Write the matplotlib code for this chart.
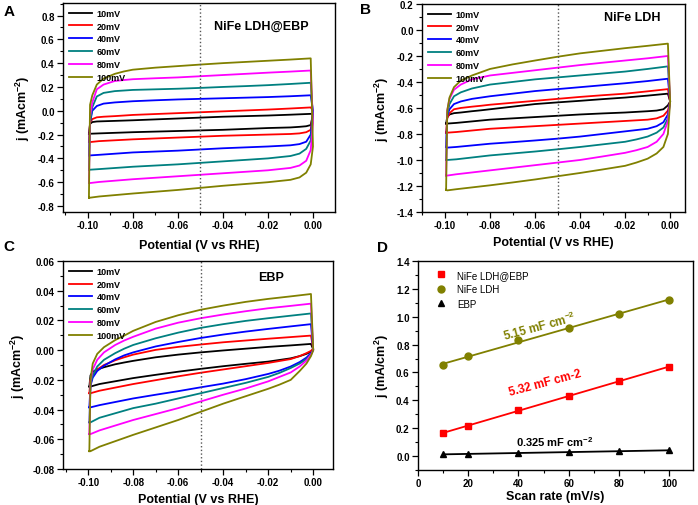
import matplotlib
matplotlib.use("Agg")
import matplotlib.pyplot as plt
import numpy as np
from matplotlib.ticker import MultipleLocator, FuncFormatter

plt.rcParams['font.family'] = ['Liberation Sans', 'DejaVu Sans']
plt.rcParams['font.weight'] = 'bold'
plt.rcParams['axes.unicode_minus'] = False
plt.rcParams['mathtext.fontset'] = 'custom'
plt.rcParams['mathtext.bf'] = 'Liberation Sans:bold'
plt.rcParams['mathtext.rm'] = 'Liberation Sans:bold'
plt.rcParams['mathtext.default'] = 'bf'

# ---------------- data ----------------
scan_labels = ["10mV", "20mV", "40mV", "60mV", "80mV", "100mV"]
cv_colors = ["#000000", "#ff0000", "#0000ff", "#008080", "#ff00ff", "#808000"]

# potentials (V vs RHE) of the anodic (upper) and cathodic (lower) branches
E_fwd = [-0.0995, -0.099, -0.098, -0.096, -0.093, -0.088, -0.084, -0.080, -0.070,
         -0.060, -0.050, -0.040, -0.030, -0.020, -0.010, -0.001]
E_rev = [0.000, -0.001, -0.003, -0.006, -0.010, -0.015, -0.020, -0.030, -0.040,
         -0.050, -0.060, -0.070, -0.080, -0.095, -0.099]

# Panel A: NiFe LDH@EBP (rows: 10,20,40,60,80,100 mV)
a_fwd = [
    [-0.193, -0.11, -0.095, -0.09, -0.088, -0.085, -0.0825, -0.08, -0.0725, -0.065, -0.0575, -0.05, -0.045, -0.04, -0.033, -0.026],
    [-0.263, -0.10, -0.07, -0.055, -0.05, -0.045, -0.04, -0.035, -0.0275, -0.02, -0.0125, -0.005, 0.0025, 0.01, 0.019, 0.028],
    [-0.375, -0.10, 0.00, 0.04, 0.06, 0.07, 0.075, 0.08, 0.088, 0.095, 0.10, 0.105, 0.11, 0.115, 0.122, 0.13],
    [-0.495, -0.10, 0.03, 0.12, 0.15, 0.165, 0.17, 0.175, 0.18, 0.185, 0.192, 0.20, 0.207, 0.215, 0.225, 0.235],
    [-0.607, -0.05, 0.07, 0.18, 0.22, 0.25, 0.258, 0.265, 0.273, 0.28, 0.29, 0.30, 0.31, 0.32, 0.329, 0.338],
    [-0.730, 0.05, 0.13, 0.22, 0.27, 0.31, 0.33, 0.345, 0.362, 0.375, 0.388, 0.40, 0.41, 0.42, 0.43, 0.44],
]
a_rev = [
    [-0.03, -0.12, -0.13, -0.135, -0.14, -0.1425, -0.145, -0.1525, -0.16, -0.165, -0.17, -0.175, -0.18, -0.19, -0.193],
    [0.00, -0.16, -0.18, -0.19, -0.195, -0.1975, -0.20, -0.205, -0.21, -0.2175, -0.225, -0.2325, -0.24, -0.255, -0.263],
    [0.00, -0.20, -0.26, -0.28, -0.29, -0.295, -0.30, -0.3075, -0.315, -0.325, -0.335, -0.3425, -0.35, -0.37, -0.375],
    [-0.05, -0.25, -0.32, -0.36, -0.38, -0.39, -0.40, -0.4125, -0.425, -0.4375, -0.45, -0.46, -0.47, -0.49, -0.495],
    [-0.10, -0.33, -0.42, -0.46, -0.48, -0.49, -0.50, -0.5125, -0.525, -0.5375, -0.55, -0.5625, -0.575, -0.598, -0.607],
    [-0.30, -0.45, -0.52, -0.56, -0.58, -0.59, -0.60, -0.615, -0.63, -0.6475, -0.665, -0.68, -0.695, -0.72, -0.730],
]

# Panel B: NiFe LDH
b_fwd = [
    [-0.72, -0.67, -0.65, -0.64, -0.635, -0.625, -0.618, -0.61, -0.59, -0.57, -0.557, -0.545, -0.532, -0.52, -0.505, -0.49],
    [-0.79, -0.68, -0.64, -0.61, -0.60, -0.59, -0.583, -0.575, -0.56, -0.545, -0.53, -0.515, -0.502, -0.49, -0.472, -0.455],
    [-0.90, -0.66, -0.61, -0.57, -0.55, -0.53, -0.52, -0.51, -0.49, -0.47, -0.455, -0.44, -0.425, -0.41, -0.393, -0.375],
    [-1.00, -0.65, -0.57, -0.51, -0.48, -0.45, -0.435, -0.42, -0.40, -0.38, -0.365, -0.35, -0.335, -0.32, -0.30, -0.28],
    [-1.12, -0.62, -0.53, -0.46, -0.42, -0.38, -0.365, -0.35, -0.33, -0.31, -0.29, -0.27, -0.252, -0.235, -0.218, -0.20],
    [-1.23, -0.62, -0.52, -0.44, -0.39, -0.35, -0.325, -0.30, -0.265, -0.235, -0.206, -0.18, -0.16, -0.14, -0.122, -0.105],
]
b_rev = [
    [-0.55, -0.58, -0.61, -0.62, -0.625, -0.63, -0.635, -0.642, -0.65, -0.66, -0.67, -0.68, -0.69, -0.715, -0.72],
    [-0.55, -0.62, -0.66, -0.68, -0.69, -0.695, -0.70, -0.71, -0.72, -0.73, -0.74, -0.75, -0.76, -0.785, -0.79],
    [-0.55, -0.65, -0.71, -0.74, -0.76, -0.77, -0.78, -0.80, -0.82, -0.836, -0.85, -0.863, -0.875, -0.90, -0.905],
    [-0.55, -0.68, -0.75, -0.79, -0.82, -0.842, -0.86, -0.88, -0.90, -0.918, -0.935, -0.95, -0.965, -0.995, -1.00],
    [-0.55, -0.70, -0.80, -0.86, -0.90, -0.925, -0.945, -0.973, -1.00, -1.02, -1.04, -1.06, -1.08, -1.11, -1.12],
    [-0.55, -0.80, -0.90, -0.95, -0.99, -1.02, -1.045, -1.073, -1.10, -1.125, -1.15, -1.173, -1.195, -1.225, -1.234],
]

# Panel C: EBP
c_fwd = [
    [-0.0245, -0.017, -0.0145, -0.013, -0.0115, -0.0095, -0.0083, -0.0072, -0.0048, -0.0030, -0.0015, -0.0002, 0.0010, 0.0022, 0.0032, 0.0042],
    [-0.029, -0.020, -0.0165, -0.013, -0.010, -0.0068, -0.0048, -0.003, 0.0002, 0.0022, 0.0038, 0.0053, 0.0065, 0.0077, 0.0088, 0.0098],
    [-0.0385, -0.024, -0.0185, -0.014, -0.0105, -0.0062, -0.0035, -0.0015, 0.0025, 0.0055, 0.0082, 0.0105, 0.0125, 0.0143, 0.016, 0.0175],
    [-0.0486, -0.023, -0.017, -0.011, -0.0065, -0.002, 0.001, 0.0035, 0.008, 0.0118, 0.015, 0.0175, 0.0197, 0.0215, 0.0232, 0.0247],
    [-0.0565, -0.021, -0.013, -0.0065, -0.0015, 0.0035, 0.0065, 0.009, 0.0145, 0.0185, 0.0215, 0.0240, 0.0262, 0.0282, 0.0298, 0.0313],
    [-0.068, -0.020, -0.009, -0.0025, 0.002, 0.0068, 0.0098, 0.013, 0.019, 0.0235, 0.0272, 0.0300, 0.0325, 0.0345, 0.0362, 0.0378],
]
c_rev = [
    [0.0005, -0.001, -0.0025, -0.004, -0.0055, -0.0066, -0.0077, -0.0092, -0.0108, -0.0126, -0.0145, -0.0166, -0.0188, -0.0228, -0.0245],
    [0.001, -0.0005, -0.002, -0.004, -0.006, -0.0073, -0.0086, -0.0108, -0.013, -0.0152, -0.0176, -0.0202, -0.0228, -0.0273, -0.029],
    [0.000, -0.002, -0.005, -0.008, -0.011, -0.0138, -0.016, -0.0195, -0.0225, -0.025, -0.0276, -0.030, -0.0325, -0.037, -0.0385],
    [0.000, -0.003, -0.006, -0.009, -0.012, -0.0153, -0.018, -0.022, -0.0255, -0.029, -0.0325, -0.036, -0.039, -0.0455, -0.0486],
    [0.000, -0.003, -0.007, -0.011, -0.015, -0.018, -0.021, -0.0258, -0.030, -0.0345, -0.039, -0.043, -0.047, -0.054, -0.0565],
    [0.000, -0.004, -0.009, -0.014, -0.020, -0.0232, -0.026, -0.031, -0.036, -0.0415, -0.047, -0.052, -0.057, -0.065, -0.068],
]

# Panel D: current density vs scan rate
scan_rate = [10, 20, 40, 60, 80, 100]
j_ldh_ebp = [0.164, 0.217, 0.330, 0.433, 0.536, 0.640]
j_ldh = [0.650, 0.717, 0.830, 0.919, 1.022, 1.119]
j_ebp = [0.012, 0.014, 0.024, 0.029, 0.034, 0.041]

# ---------------- figure ----------------
fig = plt.figure(figsize=(6.98, 5.06), dpi=100)

axA = fig.add_axes([0.0903, 0.5791, 0.3897, 0.4130])
axB = fig.add_axes([0.6046, 0.5791, 0.3768, 0.4111])
axC = fig.add_axes([0.0903, 0.0711, 0.3868, 0.4111])
axD = fig.add_axes([0.5989, 0.0692, 0.3940, 0.4130])


def fmt(nd):
    def f(v, pos):
        if abs(v) < 1e-9:
            v = 0.0
        return f"{v:.{nd}f}"
    return FuncFormatter(f)


def style(ax, xmaj, xmin, ymaj, ymin, xnd, ynd):
    for s in ax.spines.values():
        s.set_linewidth(1.0)
    ax.xaxis.set_major_locator(MultipleLocator(xmaj))
    ax.xaxis.set_minor_locator(MultipleLocator(xmin))
    ax.yaxis.set_major_locator(MultipleLocator(ymaj))
    ax.yaxis.set_minor_locator(MultipleLocator(ymin))
    ax.xaxis.set_major_formatter(fmt(xnd))
    ax.yaxis.set_major_formatter(fmt(ynd))
    ax.tick_params(which='major', direction='out', length=4, width=0.9,
                   labelsize=7, top=False, right=False, pad=2)
    ax.tick_params(which='minor', direction='out', length=2, width=0.8,
                   top=False, right=False)
    for lab in ax.get_xticklabels() + ax.get_yticklabels():
        lab.set_fontweight('bold')


def cv_panel(ax, fwd, rev, title, tx, ty, xpad):
    for k in range(len(scan_labels)):
        E = E_fwd + E_rev + [E_fwd[0]]
        j = fwd[k] + rev[k] + [fwd[k][0]]
        ax.plot(E, j, color=cv_colors[k], lw=1.3, label=scan_labels[k])
    ax.axvline(-0.05, color='#555555', ls=':', lw=1.0)
    ax.legend(loc='upper left', bbox_to_anchor=(0.0, 1.0), frameon=False,
              prop={'size': 6.5, 'weight': 'bold'}, handlelength=2.6,
              handletextpad=0.5, labelspacing=0.42, borderaxespad=0.35,
              borderpad=0.3)
    ax.text(tx, ty, title, transform=ax.transAxes, fontsize=9,
            fontweight='bold', ha='center', va='center')
    ax.set_xlabel("Potential (V vs RHE)", fontsize=9, fontweight='bold', labelpad=xpad)
    ax.set_ylabel(r"j (mAcm$^{-2}$)", fontsize=9, fontweight='bold', labelpad=4)


cv_panel(axA, a_fwd, a_rev, "NiFe LDH@EBP", 0.73, 0.89, 6)
axA.set_xlim(-0.111, 0.0098)
axA.set_ylim(-0.85, 0.905)
style(axA, 0.02, 0.01, 0.2, 0.1, 2, 1)

cv_panel(axB, b_fwd, b_rev, "NiFe LDH", 0.80, 0.935, 4)
axB.set_xlim(-0.1102, 0.0066)
axB.set_ylim(-1.4, 0.2)
style(axB, 0.02, 0.01, 0.2, 0.1, 2, 1)

cv_panel(axC, c_fwd, c_rev, "EBP", 0.77, 0.923, 4)
axC.set_xlim(-0.1112, 0.0088)
axC.set_ylim(-0.08, 0.06)
style(axC, 0.02, 0.01, 0.02, 0.01, 2, 2)

# Panel D
x = np.array(scan_rate, dtype=float)
for yv, col, mk, lab in [(j_ldh_ebp, '#ff0000', 's', 'NiFe LDH@EBP'),
                         (j_ldh, '#808000', 'o', 'NiFe LDH'),
                         (j_ebp, '#000000', '^', 'EBP')]:
    p = np.polyfit(x, yv, 1)
    axD.plot(x, np.polyval(p, x), color=col, lw=1.3)
    axD.plot(x, yv, ls='none', marker=mk, color=col, ms=5, label=lab)
axD.legend(loc='upper left', bbox_to_anchor=(0.035, 1.0), frameon=False,
           prop={'size': 7, 'weight': 'normal'},
           handlelength=1.0, handletextpad=1.1, labelspacing=0.45,
           borderaxespad=0.5, borderpad=0.4, numpoints=1)
axD.set_xlim(0, 109.5)
axD.set_ylim(-0.1, 1.4)
style(axD, 20, 10, 0.2, 0.1, 0, 1)
axD.set_xlabel("Scan rate (mV/s)", fontsize=9, fontweight='bold', labelpad=1)
axD.set_ylabel(r"j (mA/cm$^{2}$)", fontsize=9, fontweight='bold', labelpad=4)
axD.text(48.5, 0.935, r"5.15 mF cm$^{-2}$", color='#808000', fontsize=8.5,
         fontweight='bold', rotation=15, ha='center', va='center')
axD.text(50.5, 0.53, "5.32 mF cm-2", color='#ff0000', fontsize=8.5,
         fontweight='bold', rotation=15, ha='center', va='center')
axD.text(54.3, 0.11, r"0.325 mF cm$^{-2}$", color='#000000', fontsize=8,
         fontweight='bold', ha='center', va='center')

# panel letters
for lbl, px, py in [("A", 9, 12), ("B", 366, 10), ("C", 9, 247), ("D", 382, 248)]:
    fig.text(px / 698, 1 - py / 506, lbl, fontsize=11, fontweight='bold',
             ha='center', va='center')

fig.savefig("out.png", dpi=100)
